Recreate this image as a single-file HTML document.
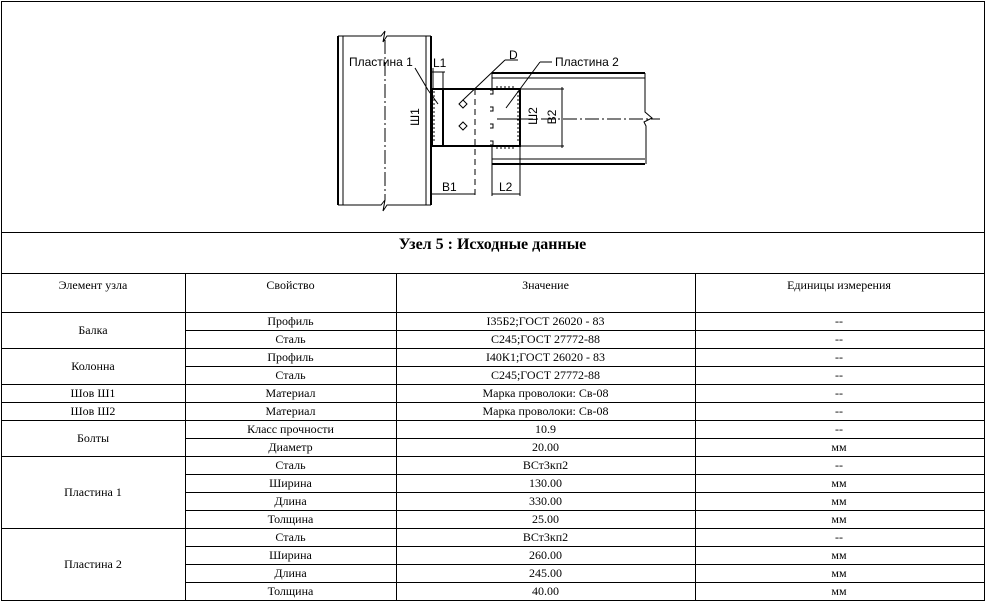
<!DOCTYPE html>
<html><head><meta charset="utf-8"><style>
body{margin:0;background:#fff;}
#w{position:relative;width:990px;height:605px;font-family:"Liberation Serif",serif;font-size:12px;color:#000;}
.c{position:absolute;text-align:center;line-height:18px;white-space:nowrap;}
.h{position:absolute;background:#000;height:1px;}
.v{position:absolute;background:#000;width:1px;}
</style></head><body><div id="w">
<div style="position:absolute;left:1px;top:1px;width:982px;height:598px;border:1px solid #000;"></div>
<svg style="position:absolute;left:0;top:0" width="990" height="232" font-family="Liberation Sans, sans-serif" font-size="12">
<g stroke="#000" fill="none">
<!-- column -->
<line x1="338" y1="36" x2="338" y2="205" stroke-width="2"/>
<line x1="343" y1="36" x2="343" y2="205"/>
<line x1="426" y1="36" x2="426" y2="205"/>
<line x1="431" y1="36" x2="431" y2="205" stroke-width="2"/>
<path d="M338 36 H381 L385 31 L383 42 L387 36 H431"/>
<path d="M338 205 H381 L385 200 L383 211 L387 205 H431"/>
<line x1="385" y1="40" x2="385" y2="200" stroke-dasharray="14,3,2,3"/>
<!-- plates -->
<rect x="432" y="89" width="88" height="57" stroke-width="2"/>
<line x1="443" y1="89" x2="443" y2="146" stroke-width="2"/>
<path d="M432 92h3M432 96h3M432 100h3M432 104h3M432 108h3M432 112h3M432 116h3M432 120h3M432 124h3M432 128h3M432 132h3M432 136h3M432 140h3"/>
<path d="M517 92h3M517 96h3M517 100h3M517 104h3M517 108h3M517 112h3M517 116h3M517 120h3M517 124h3M517 128h3M517 132h3M517 136h3M517 140h3"/>
<path d="M497 86v3M501 86v3M505 86v3M509 86v3M513 86v3M497 146v3M501 146v3M505 146v3M509 146v3M513 146v3"/>
<path d="M490 90h3v4h-3M490 107h3v4h-3M490 124h3v4h-3M490 141h3v4h-3"/>
<line x1="475" y1="89" x2="475" y2="196" stroke-dasharray="6,4"/>
<path d="M459 104l4-4 4 4-4 4z"/><path d="M459 126l4-4 4 4-4 4z"/>
<!-- beam -->
<line x1="492" y1="73" x2="645" y2="73" stroke-width="2"/>
<line x1="492" y1="78" x2="645" y2="78"/>
<line x1="492" y1="159" x2="645" y2="159"/>
<line x1="492" y1="164" x2="645" y2="164" stroke-width="2"/>
<line x1="492" y1="73" x2="492" y2="89"/><line x1="492" y1="146" x2="492" y2="196"/>
<path d="M645 73 V112 L652 118 L644 122 L646 126 V164"/>
<line x1="497" y1="119" x2="660" y2="119" stroke-dasharray="14,3,2,3"/>
<line x1="497" y1="119" x2="520" y2="119"/>
<!-- dims -->
<line x1="520" y1="89" x2="564" y2="89"/><line x1="520" y1="146" x2="564" y2="146"/>
<line x1="562" y1="87" x2="562" y2="148"/>
<line x1="432" y1="194" x2="475" y2="194"/>
<line x1="492" y1="194" x2="520" y2="194"/>
<line x1="520" y1="146" x2="520" y2="196"/>
<line x1="432" y1="72" x2="445" y2="72"/><line x1="443" y1="72" x2="443" y2="89"/>
<line x1="433" y1="68" x2="433" y2="89"/>
<!-- leaders -->
<line x1="415" y1="68" x2="428" y2="90"/><line x1="428" y1="90" x2="438" y2="104"/>
<line x1="463" y1="100" x2="505" y2="60"/><line x1="505" y1="60" x2="518" y2="60"/>
<line x1="506" y1="108" x2="540" y2="62"/><line x1="540" y1="62" x2="552" y2="62"/>
</g>
<text x="349" y="66">Пластина 1</text>
<text x="433" y="67">L1</text>
<text x="509" y="59">D</text>
<text x="555" y="66">Пластина 2</text>
<text x="442" y="191">B1</text>
<text x="499" y="191">L2</text>
<text transform="translate(419,117) rotate(-90)" text-anchor="middle">Ш1</text>
<text transform="translate(537,116) rotate(-90)" text-anchor="middle">Ш2</text>
<text transform="translate(556,117) rotate(-90)" text-anchor="middle">B2</text>
</svg>
<div class="h" style="left:1px;top:232px;width:983px"></div>
<div class="c" style="left:1px;top:236px;width:983px;font-size:16px;font-weight:bold">Узел 5 : Исходные данные</div>
<div class="h" style="left:1px;top:273px;width:983px"></div>
<div class="c" style="left:1px;top:276px;width:184px">Элемент узла</div>
<div class="c" style="left:185px;top:276px;width:211px">Свойство</div>
<div class="c" style="left:396px;top:276px;width:299px">Значение</div>
<div class="c" style="left:695px;top:276px;width:288px">Единицы измерения</div>
<div class="h" style="left:1px;top:312px;width:983px"></div>
<div class="v" style="left:185px;top:273px;height:327px"></div>
<div class="v" style="left:396px;top:273px;height:327px"></div>
<div class="v" style="left:695px;top:273px;height:327px"></div>
<div id="rows"></div>
<script>
var rows=[["Профиль","I35Б2;ГОСТ 26020 - 83","--"],["Сталь","С245;ГОСТ 27772-88","--"],["Профиль","I40К1;ГОСТ 26020 - 83","--"],["Сталь","С245;ГОСТ 27772-88","--"],["Материал","Марка проволоки: Св-08","--"],["Материал","Марка проволоки: Св-08","--"],["Класс прочности","10.9","--"],["Диаметр","20.00","мм"],["Сталь","ВСт3кп2","--"],["Ширина","130.00","мм"],["Длина","330.00","мм"],["Толщина","25.00","мм"],["Сталь","ВСт3кп2","--"],["Ширина","260.00","мм"],["Длина","245.00","мм"],["Толщина","40.00","мм"]];
var groups=[["Балка",0,2],["Колонна",2,2],["Шов Ш1",4,1],["Шов Ш2",5,1],["Болты",6,2],["Пластина 1",8,4],["Пластина 2",12,4]];
var h="";
rows.forEach(function(r,i){var y=312+i*18;
h+='<div class="c" style="left:185px;top:'+y+'px;width:211px">'+r[0]+'</div><div class="c" style="left:396px;top:'+y+'px;width:299px">'+r[1]+'</div><div class="c" style="left:695px;top:'+y+'px;width:288px">'+r[2]+'</div><div class="h" style="left:185px;top:'+(y+18)+'px;width:799px"></div>';});
groups.forEach(function(g){var y=312+g[1]*18,hh=g[2]*18;
h+='<div class="c" style="left:1px;top:'+y+'px;width:184px;height:'+hh+'px;line-height:'+hh+'px">'+g[0]+'</div><div class="h" style="left:1px;top:'+(y+hh)+'px;width:184px"></div>';});
document.getElementById("rows").innerHTML=h;
</script>
</div></body></html>
